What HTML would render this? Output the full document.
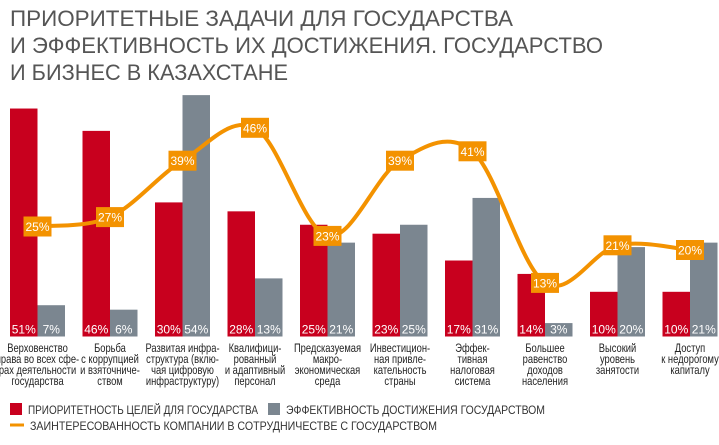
<!DOCTYPE html>
<html><head><meta charset="utf-8"><style>
body{margin:0;background:#fff;width:719px;height:445px;overflow:hidden}
svg{display:block;font-family:"Liberation Sans",sans-serif}
</style></head><body>
<svg id="c" width="719" height="445" viewBox="0 0 719 445">
<g fill="#555" font-size="22">
<text x="10" y="26" textLength="503" lengthAdjust="spacingAndGlyphs">ПРИОРИТЕТНЫЕ ЗАДАЧИ ДЛЯ ГОСУДАРСТВА</text>
<text x="10" y="53" textLength="593" lengthAdjust="spacingAndGlyphs">И ЭФФЕКТИВНОСТЬ ИХ ДОСТИЖЕНИЯ. ГОСУДАРСТВО</text>
<text x="10" y="80" textLength="278" lengthAdjust="spacingAndGlyphs">И БИЗНЕС В КАЗАХСТАНЕ</text>
</g>
<g id="bars"></g><g id="line"></g><g id="cats"></g>
<g font-size="12" fill="#333">
<rect x="10" y="403" width="12" height="12" fill="#c8001e"/>
<text x="28" y="414" textLength="230" lengthAdjust="spacingAndGlyphs">ПРИОРИТЕТНОСТЬ ЦЕЛЕЙ ДЛЯ ГОСУДАРСТВА</text>
<rect x="268" y="403" width="12" height="12" fill="#7b8690"/>
<text x="286" y="414" textLength="259" lengthAdjust="spacingAndGlyphs">ЭФФЕКТИВНОСТЬ ДОСТИЖЕНИЯ ГОСУДАРСТВОМ</text>
<line x1="10" y1="425" x2="24" y2="425" stroke="#f39200" stroke-width="3"/>
<text x="30" y="430" textLength="407" lengthAdjust="spacingAndGlyphs">ЗАИНТЕРЕСОВАННОСТЬ КОМПАНИИ В СОТРУДНИЧЕСТВЕ С ГОСУДАРСТВОМ</text>
</g>
</svg>
<script>
const categories=[["Верховенство","права во всех сфе-","рах деятельности","государства"],["Борьба","с коррупцией","и взяточниче-","ством"],["Развитая инфра-","структура (вклю-","чая цифровую","инфраструктуру)"],["Квалифици-","рованный","и адаптивный","персонал"],["Предсказуемая","макро-","экономическая","среда"],["Инвестицион-","ная привле-","кательность","страны"],["Эффек-","тивная","налоговая","система"],["Большее","равенство","доходов","населения"],["Высокий","уровень","занятости"],["Доступ","к недорогому","капиталу"]];
const priority=[51,46,30,28,25,23,17,14,10,10];
const efficiency=[7,6,54,13,21,25,31,3,20,21];
const interest=[25,27,39,46,23,39,41,13,21,20];
const NS="http://www.w3.org/2000/svg";
const base=336.5,bs=4.47,bw=27.5;
const gx=i=>10+72.5*i;
const yb=v=>base-v*bs;
const yl=v=>344-v*4.7;
function mk(t,a,p){const e=document.createElementNS(NS,t);for(const k in a)e.setAttribute(k,a[k]);p.appendChild(e);return e;}
const bars=document.getElementById('bars'),line=document.getElementById('line'),cats=document.getElementById('cats');
priority.forEach((v,i)=>{
 const r=mk('rect',{x:gx(i),y:yb(v),width:bw,height:base-yb(v),fill:'#c8001e'},bars);
 
 
 const t=mk('text',{x:gx(i)+bw/2,y:base-3,'text-anchor':'middle',fill:'#fff','font-size':12},bars);
 
 
 t.textContent=v+'%';
});
efficiency.forEach((v,i)=>{
 const r=mk('rect',{x:gx(i)+bw,y:yb(v),width:bw,height:base-yb(v),fill:'#7b8690'},bars);
 
 
 const t=mk('text',{x:gx(i)+bw*1.5,y:base-3,'text-anchor':'middle',fill:'#fff','font-size':12},bars);
 
 
 t.textContent=v+'%';
});
const pts=interest.map((v,i)=>[gx(i)+bw,yl(v)]);
let d='M'+pts[0][0]+','+pts[0][1];
for(let i=0;i<pts.length-1;i++){const p0=pts[Math.max(i-1,0)],p1=pts[i],p2=pts[i+1],p3=pts[Math.min(i+2,pts.length-1)];
 const c1=[p1[0]+(p2[0]-p0[0])/6,p1[1]+(p2[1]-p0[1])/6],c2=[p2[0]-(p3[0]-p1[0])/6,p2[1]-(p3[1]-p1[1])/6];
 d+=` C${c1[0]},${c1[1]} ${c2[0]},${c2[1]} ${p2[0]},${p2[1]}`;}
const pa=mk('path',{d:d,fill:'none',stroke:'#f39200','stroke-width':4},line);


interest.forEach((v,i)=>{
 const [x,y]=pts[i];
 const r=mk('rect',{x:x-14,y:y-10,width:28,height:20,fill:'#f39200'},line);
 
 
 const t=mk('text',{x:x,y:y+4.5,'text-anchor':'middle',fill:'#fff','font-size':12},line);
 
 
 t.textContent=v+'%';
});
categories.forEach((ls,i)=>{
 const g=mk('g',{transform:`translate(${gx(i)+bw},0) scale(0.78,1)`},cats);
 const t=mk('text',{'font-size':12,fill:'#222','text-anchor':'middle'},g);
 
 
 ls.forEach((s,j)=>{const ts=mk('tspan',{x:0,y:352+j*11},t);ts.textContent=s;});
});
</script>
</body></html>
